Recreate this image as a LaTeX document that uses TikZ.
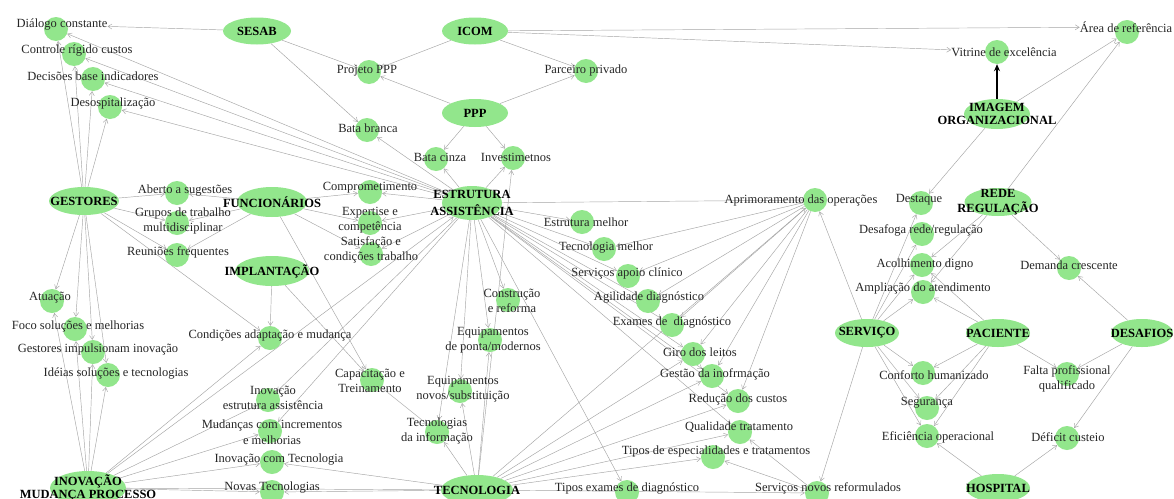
\documentclass[tikz,border=0pt]{standalone}
\usepackage{fontspec}
\setmainfont{Liberation Serif}
\usetikzlibrary{shapes.geometric,arrows.meta}
\pgfdeclarelayer{background}
\pgfsetlayers{background,main}
\definecolor{nodegreen}{RGB}{146,230,140}
\definecolor{linkgray}{RGB}{165,165,165}
\newcommand\lblfont{\fontsize{12.5}{15.5}\selectfont}
\newcommand\hubfont{\fontsize{12.5}{13.5}\selectfont\bfseries}
% small concept: green dot plus its label set slightly apart
\newcommand\leaf[4]{%
  \node[dot] (#1) at (#2) {};
  \node[lbl] (#1-t) at (#3) {#4};}
% main category: green ellipse with a bold caption
\newcommand\hub[5]{%
  \node[hub, minimum width=#3, minimum height=#4] (#1) at (#2) {};
  \node[hubtxt] (#1-t) at (#2) {#5};}
\tikzset{
  dot/.style={circle, fill=nodegreen, minimum size=24pt, inner sep=0pt},
  hub/.style={ellipse, fill=nodegreen, inner sep=0pt},
  lbl/.style={font=\lblfont, inner sep=0pt, align=center, text=black!85},
  hubtxt/.style={font=\hubfont, inner sep=0pt, align=center},
  link/.style={draw=linkgray, line width=0.45pt, -{Straight Barb[length=4pt,width=5pt]}},
  strong/.style={draw=black, line width=1.3pt, -{Stealth[length=7pt,width=6pt]}}
}
\begin{document}
\begin{tikzpicture}[x=1pt,y=-1pt]
\useasboundingbox (0,0) rectangle (1174,498);
\clip (0,0) rectangle (1174,498);

% ---- main categories
\hub{sesab}{257,31}{68pt}{27pt}{SESAB}
\hub{icom}{475,31}{66pt}{27pt}{ICOM}
\hub{ppp}{475,113}{66pt}{28pt}{PPP}
\hub{imagem}{997,114}{66pt}{30pt}{IMAGEM\\ORGANIZACIONAL}
\hub{gestores}{84,201}{70pt}{28pt}{GESTORES}
\hub{func}{272,202}{70pt}{30pt}{FUNCIONÁRIOS}
\hub{estr}{472,203}{60pt}{34pt}{ESTRUTURA\\[3pt]ASSISTÊNCIA}
\hub{rede}{998,202}{67pt}{28pt}{REDE\\[1pt]REGULAÇÃO}
\hub{impl}{272,271}{74pt}{30pt}{IMPLANTAÇÃO}
\hub{servico}{867,333}{64pt}{28pt}{SERVIÇO}
\hub{paciente}{998,333}{64pt}{28pt}{PACIENTE}
\hub{desafios}{1142,333}{62pt}{28pt}{DESAFIOS}
\hub{inovacao}{88,488}{76pt}{34pt}{INOVAÇÃO\\MUDANÇA PROCESSO}
\hub{tecno}{477,490}{72pt}{30pt}{TECNOLOGIA}
\hub{hospital}{998,488}{64pt}{28pt}{HOSPITAL}

% ---- concepts
\leaf{dialogo}{56,29}{62,25}{Diálogo constante}
\leaf{controle}{74,54}{77,51}{Controle rígido custos}
\leaf{decisoes}{93,79}{93,76}{Decisões base indicadores}
\leaf{desosp}{110,107}{113,103}{Desospitalização}
\leaf{projeto}{369,72}{367,71}{Projeto PPP}
\leaf{batabranca}{367,130}{368,128}{Bata branca}
\leaf{parceiro}{586,71}{586,70}{Parceiro privado}
\leaf{batacinza}{436,159}{440,157}{Bata cinza}
\leaf{investimentos}{513,158}{516,157}{Investimetnos}
\leaf{vitrine}{997,52}{1004,52}{Vitrine de excelência}
\leaf{area}{1127,32}{1126,27}{Área de referência}
\leaf{aberto}{177,193}{185,191}{Aberto a sugestões}
\leaf{grupos}{177,223}{183,221}{Grupos de trabalho\\multidisciplinar}
\leaf{reunioes}{177,255}{178,252}{Reuniões frequentes}
\leaf{comprom}{370,192}{370,188}{Comprometimento}
\leaf{expertise}{370,223}{370,220}{Expertise e\\competência}
\leaf{satisf}{371,254}{371,250}{Satisfação e\\condições trabalho}
\leaf{estrmelhor}{582,222}{586,222}{Estrutura melhor}
\leaf{tecmelhor}{604,249}{606,248}{Tecnologia melhor}
\leaf{servapoio}{628,276}{627,273}{Serviços apoio clínico}
\leaf{agilidade}{648,301}{649,297}{Agilidade diagnóstico}
\leaf{exames}{672,325}{672,322}{Exames de \ diagnóstico}
\leaf{giro}{693,354}{700,352}{Giro dos leitos}
\leaf{gestao}{712,376}{715,374}{Gestão da inofrmação}
\leaf{reducao}{738,401}{738,399}{Redução dos custos}
\leaf{qualidade}{740,432}{739,427}{Qualidade tratamento}
\leaf{tiposesp}{713,457}{716,451}{Tipos de especialidades e tratamentos}
\leaf{tiposexames}{627,492}{627,488}{Tipos exames de diagnóstico}
\leaf{servnovos}{817,493}{828,488}{Serviços novos reformulados}
\leaf{aprim}{815,200}{801,200}{Aprimoramento das operações}
\leaf{destaque}{921,203}{919,200}{Destaque}
\leaf{desafoga}{922,234}{921,230}{Desafoga rede/regulação}
\leaf{acolhimento}{922,265}{925,265}{Acolhimento digno}
\leaf{ampliacao}{923,292}{923,288}{Ampliação do atendimento}
\leaf{demanda}{1069,268}{1069,265}{Demanda crescente}
\leaf{conforto}{923,373}{934,375}{Conforto humanizado}
\leaf{seguranca}{927,408}{927,403}{Segurança}
\leaf{eficiencia}{927,436}{938,437}{Eficiência operacional}
\leaf{falta}{1067,374}{1067,379}{Falta profissional\\qualificado}
\leaf{deficit}{1067,438}{1068,437}{Déficit custeio}
\leaf{atuacao}{52,301}{50,298}{Atuação}
\leaf{foco}{75,329}{78,326}{Foco soluções e melhorias}
\leaf{gestimp}{93,352}{98,349}{Gestores impulsionam inovação}
\leaf{ideias}{108,375}{116,373}{Idéias soluções e tecnologias}
\leaf{condicoes}{270,338}{270,335}{Condições adaptação e mudança}
\leaf{capacitacao}{372,380}{370,381}{Capacitação e\\Treinamento}
\leaf{inovestr}{268,400}{273,398}{Inovação\\estrutura assistência}
\leaf{mudancas}{270,431}{272,432}{Mudanças com incrementos\\e melhorias}
\leaf{inovtec}{272,462}{279,460}{Inovação com Tecnologia}
\leaf{novastec}{272,492}{272,488}{Novas Tecnologias}
\leaf{construcao}{508,300}{512,301}{Construção\\e reforma}
\leaf{equipponta}{490,340}{493,340}{Equipamentos\\de ponta/modernos}
\leaf{equipnovos}{460,391}{463,389}{Equipamentos\\novos/substituição}
\leaf{tecinfo}{437,432}{437,431}{Tecnologias\\da informação}

% ---- connectors, kept under the dots and captions
\begin{pgfonlayer}{background}
\fill[white] (0,0) rectangle (1174,498);
\foreach \a/\b in {
  sesab/dialogo-t, sesab/projeto, sesab/batabranca,
  icom/projeto, icom/parceiro, icom/area-t, icom/vitrine-t,
  ppp/projeto, ppp/parceiro, ppp/batacinza, ppp/investimentos,
  imagem/area, imagem/destaque,
  rede/area, rede/acolhimento, rede/ampliacao, rede/demanda,
  gestores/dialogo, gestores/controle, gestores/decisoes, gestores/desosp,
  gestores/aberto, gestores/grupos, gestores/reunioes, gestores/condicoes,
  gestores/atuacao, gestores/foco, gestores/gestimp, gestores/ideias,
  func/aberto, func/grupos, func/reunioes, func/comprom, func/expertise,
  func/satisf, func/capacitacao,
  estr/dialogo, estr/controle, estr/decisoes, estr/desosp, estr/batabranca,
  estr/batacinza, estr/investimentos, estr/comprom, estr/expertise, estr/satisf,
  estr/estrmelhor, estr/tecmelhor, estr/servapoio, estr/agilidade, estr/exames,
  estr/giro, estr/gestao, estr/reducao, estr/qualidade, estr/construcao,
  estr/equipponta, estr/equipnovos, estr/tecinfo, estr/tiposexames, estr/aprim,
  estr/inovestr, estr/mudancas,
  impl/condicoes, impl/capacitacao,
  inovacao/atuacao, inovacao/foco, inovacao/gestimp, inovacao/ideias,
  inovacao/condicoes, inovacao/inovestr, inovacao/mudancas, inovacao/inovtec,
  inovacao/novastec, inovacao/tecno, inovacao/estr,
  tecno/equipponta, tecno/equipnovos, tecno/tecinfo, tecno/investimentos,
  tecno/inovtec, tecno/novastec, tecno/giro, tecno/gestao, tecno/reducao,
  tecno/qualidade, tecno/tiposesp, tecno/servnovos, tecno/aprim,
  aprim/tecmelhor, aprim/servapoio, aprim/agilidade, aprim/exames, aprim/giro,
  aprim/gestao, aprim/reducao,
  servico/aprim, servico/servnovos, servico/destaque, servico/desafoga,
  servico/acolhimento, servico/ampliacao, servico/conforto, servico/seguranca,
  servico/eficiencia,
  paciente/acolhimento, paciente/ampliacao, paciente/conforto,
  paciente/seguranca, paciente/eficiencia, paciente/falta,
  desafios/falta, desafios/deficit, desafios/demanda,
  hospital/eficiencia, hospital/deficit,
  servnovos/tiposesp, servnovos/qualidade,
  capacitacao/tecinfo}
  \draw[link] (\a) -- (\b);
\end{pgfonlayer}
\draw[strong] (imagem) -- (vitrine);
\end{tikzpicture}
\end{document}
